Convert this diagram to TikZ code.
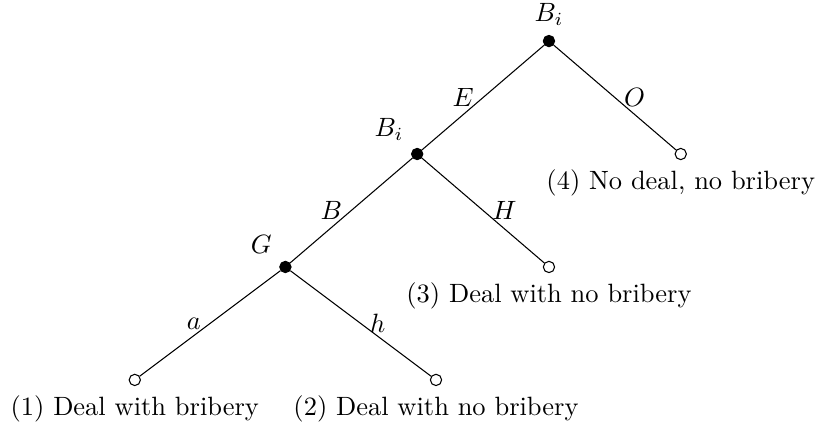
\documentclass[tikz,border=0pt]{standalone}
\usepackage{tikz}
\usetikzlibrary{positioning}

\begin{document}
\begin{tikzpicture}[
            decision/.style={circle, fill=black, draw=black, inner sep=0pt, minimum size=1.5mm},
            terminal/.style={circle, fill=white, draw=black, inner sep=0pt, minimum size=1.5mm},
            outcome/.style={below, inner sep=3.5pt}
        ]
            \useasboundingbox (-7.29,-5.22) rectangle (3.546,0.545);

            % Decision nodes
            \node[decision, label=above:{$B_i$}] (root) at (0,0) {};
            \node[decision, label=above left:{$B_i$}] (bi) at (-1.75,-1.5) {};
            \node[decision, label=above left:{$G$}] (gov) at (-3.5,-3) {};

            % Outcomes
            \node[terminal, label={[outcome]below:{(4) No deal, no bribery}}] (nodeal) at (1.75,-1.5) {};
            \node[terminal, label={[outcome]below:{(3) Deal with no bribery}}] (honest) at (0,-3) {};
            \node[terminal, label={[outcome]below:{(1) Deal with bribery}}] (accept) at (-5.5,-4.5) {};
            \node[terminal, label={[outcome]below:{(2) Deal with no bribery}}] (refuse) at (-1.5,-4.5) {};

            % Moves
            \draw (root) -- node[left]{$E$} (bi);
            \draw (root) -- node[right]{$O$} (nodeal);
            \draw (bi) -- node[left]{$B$} (gov);
            \draw (bi) -- node[right]{$H$} (honest);
            \draw (gov) -- node[left]{$a$} (accept);
            \draw (gov) -- node[right]{$h$} (refuse);
        \end{tikzpicture}
\end{document}
